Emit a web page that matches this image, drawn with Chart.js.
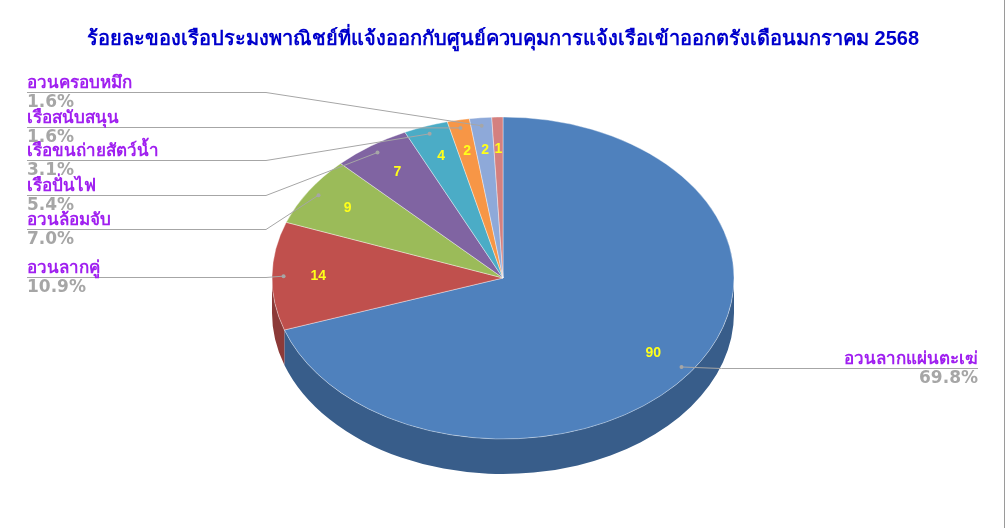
<!DOCTYPE html>
<html lang="th">
<head>
<meta charset="utf-8">
<title>ร้อยละของเรือประมงพาณิชย์</title>
<script src="https://cdn.jsdelivr.net/npm/chart.js@4.4.1/dist/chart.umd.min.js"></script>
<style>
    html, body { margin: 0; padding: 0; background: #fff; }
    #wrap { width: 1006px; height: 528px; position: relative; }
</style>
</head>
<body>
<div id="wrap"><canvas id="pie"></canvas></div>
<script>
// --- 1. Data (clockwise from 12 o'clock) ---
const categories = ["อวนลากแผ่นตะเฆ่", "อวนลากคู่", "อวนล้อมจับ", "เรือปั่นไฟ", "เรือขนถ่ายสัตว์น้ำ", "เรือสนับสนุน", "อวนครอบหมึก", "อื่นๆ"];
const boatCounts = [90, 14, 9, 7, 4, 2, 2, 1];
const showOuterLabel = [true, true, true, true, true, true, true, false];
const chartTitle = "ร้อยละของเรือประมงพาณิชย์ที่แจ้งออกกับศูนย์ควบคุมการแจ้งเรือเข้าออกตรังเดือนมกราคม 2568";

// --- 2. Look & layout ---
const sliceColors = ["#4F81BD", "#C0504D", "#9BBB59", "#8064A2", "#4BACC6", "#F79646", "#8EA9D9", "#D4807F"];
const sideColors  = ["#385D8A", "#8C3A38", "#71893F", "#5C4876", "#357E91", "#B66D31", "#667CA0", "#9A5C5B"];
const FONT = "Tahoma, 'Liberation Sans', 'DejaVu Sans', sans-serif";
const NUM_FONT = "'Liberation Sans', Arial, sans-serif";
const PCT_FONT = "'DejaVu Sans', Verdana, sans-serif";
const PIE_R = 231, PIE_RY = 161, PIE_CY = 278, PIE_DEPTH = 35;
// y of the horizontal run of each leader line (label sits on it)
const leaderY = [368, 277, 229, 195, 160, 127, 92, null];

const total = boatCounts.reduce((a, b) => a + b, 0);

// --- 3. Fake 3D: side wall + squashed top face + labels ---
const pie3d = {
    id: "pie3d",
    beforeDatasetsDraw(chart) {
        const ctx = chart.ctx;
        const arcs = chart.getDatasetMeta(0).data;
        const cx = arcs[0].x;

        // only the front half of the wall (0..PI) can be seen
        arcs.forEach((arc, i) => {
            const a0 = Math.max(arc.startAngle, 0);
            const a1 = Math.min(arc.endAngle, Math.PI);
            if (a1 <= a0) return;
            ctx.beginPath();
            ctx.ellipse(cx, PIE_CY, PIE_R, PIE_RY, 0, a0, a1);
            ctx.ellipse(cx, PIE_CY + PIE_DEPTH, PIE_R, PIE_RY, 0, a1, a0, true);
            ctx.closePath();
            ctx.fillStyle = sideColors[i];
            ctx.fill();
        });

        // squash the circle into the tilted top face
        ctx.save();
        ctx.translate(cx, PIE_CY);
        ctx.scale(1, PIE_RY / PIE_R);
        ctx.translate(-cx, -arcs[0].y);
    },
    afterDatasetsDraw(chart) {
        const ctx = chart.ctx;
        ctx.restore();

        const arcs = chart.getDatasetMeta(0).data;
        const cx = arcs[0].x;
        const at = (a, f) => ({ x: cx + f * PIE_R * Math.cos(a), y: PIE_CY + f * PIE_RY * Math.sin(a) });

        arcs.forEach((arc, i) => {
            const mid = (arc.startAngle + arc.endAngle) / 2;

            // value inside the slice
            const p = at(mid, 0.8);
            ctx.font = "bold 14px " + NUM_FONT;
            ctx.fillStyle = "#FFFF1A";
            ctx.textAlign = "center";
            ctx.textBaseline = "middle";
            ctx.fillText(boatCounts[i], p.x, p.y);

            if (!showOuterLabel[i]) return;

            // leader line
            const d = at(mid, 0.95);
            const ly = leaderY[i];
            const right = Math.cos(mid) > 0;
            const elbowX = right ? d.x + 40 : 266;
            const endX = right ? 978 : 27;

            ctx.strokeStyle = "#A6A6A6";
            ctx.lineWidth = 1;
            ctx.beginPath();
            ctx.moveTo(d.x, d.y);
            ctx.lineTo(elbowX, ly + 0.5);
            ctx.lineTo(endX, ly + 0.5);
            ctx.stroke();

            ctx.fillStyle = "#A6A6A6";
            ctx.beginPath();
            ctx.arc(d.x, d.y, 2, 0, Math.PI * 2);
            ctx.fill();

            // name + percent
            ctx.textAlign = right ? "right" : "left";
            ctx.font = "bold 17px " + FONT;
            ctx.fillStyle = "#A020F0";
            ctx.textBaseline = "bottom";
            ctx.fillText(categories[i], endX, ly);

            ctx.font = "bold 17px " + PCT_FONT;
            ctx.fillStyle = "#A6A6A6";
            ctx.textBaseline = "top";
            ctx.fillText((boatCounts[i] / total * 100).toFixed(1) + "%", endX, ly + 2);
        });
    },
    afterDraw(chart) {
        // thin frame line on the right edge
        const ctx = chart.ctx;
        ctx.strokeStyle = "#9A9A9A";
        ctx.lineWidth = 1;
        ctx.beginPath();
        ctx.moveTo(1004.5, 0);
        ctx.lineTo(1004.5, 528);
        ctx.stroke();
    }
};

new Chart(document.getElementById("pie"), {
    type: "pie",
    data: {
        labels: categories,
        datasets: [{
            data: boatCounts,
            backgroundColor: sliceColors,
            borderColor: "rgba(255,255,255,0.45)",
            borderWidth: 1,
            radius: PIE_R,
            clip: false
        }]
    },
    options: {
        responsive: true,
        maintainAspectRatio: false,
        animation: false,
        events: [],
        plugins: {
            legend: { display: false },
            tooltip: { enabled: false },
            title: {
                display: true,
                text: chartTitle,
                color: "#0000CC",
                font: { family: FONT, size: 20, weight: "bold" },
                padding: { top: 27, bottom: 8 }
            }
        }
    },
    plugins: [pie3d]
});
</script>
</body>
</html>
